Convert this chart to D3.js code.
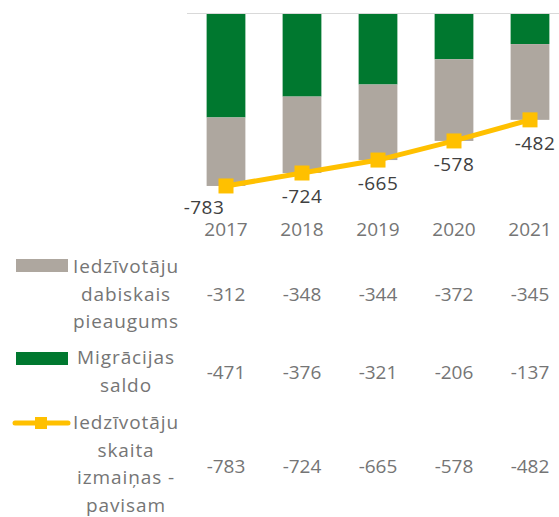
<!DOCTYPE html>
<html>
<head>
<meta charset="utf-8">
<script src="https://cdn.jsdelivr.net/npm/d3@7"></script>
<style>
  body { margin: 0; background: #fff; }
  svg { display: block; font-family: "Open Sans", Lato, sans-serif; }
</style>
</head>
<body>
<svg width="559" height="517"></svg>
<script>
// data
let years = ["2017", "2018", "2019", "2020", "2021"];
let natural = [-312, -348, -344, -372, -345];   // Iedzīvotāju dabiskais pieaugums
let migration = [-471, -376, -321, -206, -137]; // Migrācijas saldo
let total = [-783, -724, -665, -578, -482];     // Iedzīvotāju skaita izmaiņas - pavisam
let seriesNames = [
  ["Iedzīvotāju", "dabiskais", "pieaugums"],
  ["Migrācijas", "saldo"],
  ["Iedzīvotāju", "skaita", "izmaiņas -", "pavisam"]
];

let colGray = "#aea79f",
  colGreen = "#00782f",
  colYellow = "#ffc000",
  textGray = "#757575";

let svg = d3.select("svg");

let x = d3.scaleBand().domain(years).range([188, 568]).padding(0);
let barW = x.bandwidth() * 0.51;
let cx = d => x(d) + x.bandwidth() / 2;

let y = d3.scaleLinear().domain([0, -800]).range([14, 189.7]);

// zero line
svg.append("line")
  .attr("x1", 187).attr("x2", 559)
  .attr("y1", y(0) - 0.5).attr("y2", y(0) - 0.5)
  .style("stroke", "#d9d9d9").style("stroke-width", 1);

// migration bars (nearest zero)
svg.selectAll(".mig")
  .data(years)
  .enter().append("rect")
  .attr("x", d => cx(d) - barW / 2)
  .attr("y", y(0))
  .attr("width", barW)
  .attr("height", (d, i) => y(migration[i]) - y(0))
  .style("fill", colGreen);

// natural bars (stacked below)
svg.selectAll(".nat")
  .data(years)
  .enter().append("rect")
  .attr("x", d => cx(d) - barW / 2)
  .attr("y", (d, i) => y(migration[i]))
  .attr("width", barW)
  .attr("height", (d, i) => y(migration[i] + natural[i]) - y(migration[i]))
  .style("fill", colGray);

// total line
let line = d3.line()
  .x((d, i) => cx(years[i]))
  .y(d => y(d));

svg.append("path")
  .datum(total)
  .attr("d", line)
  .style("fill", "none")
  .style("stroke", colYellow)
  .style("stroke-width", 5);

svg.selectAll(".mark")
  .data(total)
  .enter().append("rect")
  .attr("x", (d, i) => cx(years[i]) - 7.5)
  .attr("y", d => y(d) - 7.5)
  .attr("width", 15).attr("height", 15)
  .style("fill", colYellow);

// data labels
let labelDx = [-22, 0, 0, 0, 5];
svg.selectAll(".lbl")
  .data(total)
  .enter().append("text")
  .attr("x", (d, i) => cx(years[i]) + labelDx[i])
  .attr("y", (d, i) => y(d) + (i == 0 ? 28 : 30))
  .attr("text-anchor", "middle")
  .style("font-size", "19px")
  .style("letter-spacing", "0.5px")
  .style("fill", "#404040")
  .text(d => d);

// year labels
svg.selectAll(".yr")
  .data(years)
  .enter().append("text")
  .attr("x", d => cx(d))
  .attr("y", 236)
  .attr("text-anchor", "middle")
  .style("font-size", "19px")
  .style("fill", textGray)
  .text(d => d);

// data table
let rows = [natural, migration, total];
let rowValueY = [301, 379, 473];
let rowTextY = [273, 364, 429];
let lineH = 27.5;

rows.forEach((vals, r) => {
  svg.selectAll(".v" + r)
    .data(vals)
    .enter().append("text")
    .attr("x", (d, i) => cx(years[i]))
    .attr("y", rowValueY[r])
    .attr("text-anchor", "middle")
    .style("font-size", "19px")
    .style("fill", textGray)
    .text(d => d);

  svg.selectAll(".n" + r)
    .data(seriesNames[r])
    .enter().append("text")
    .attr("x", 126)
    .attr("y", (d, i) => rowTextY[r] + i * lineH)
    .attr("text-anchor", "middle")
    .style("font-size", "19px")
    .style("letter-spacing", "0.9px")
    .style("fill", textGray)
    .text(d => d);
});

// legend keys
svg.append("rect")
  .attr("x", 16).attr("y", 259).attr("width", 52).attr("height", 13)
  .style("fill", colGray);
svg.append("rect")
  .attr("x", 16).attr("y", 352).attr("width", 52).attr("height", 13)
  .style("fill", colGreen);
svg.append("line")
  .attr("x1", 15).attr("x2", 68).attr("y1", 423).attr("y2", 423)
  .style("stroke", colYellow).style("stroke-width", 5)
  .style("stroke-linecap", "round");
svg.append("rect")
  .attr("x", 35).attr("y", 417).attr("width", 12).attr("height", 12)
  .style("fill", colYellow);
</script>
</body>
</html>
